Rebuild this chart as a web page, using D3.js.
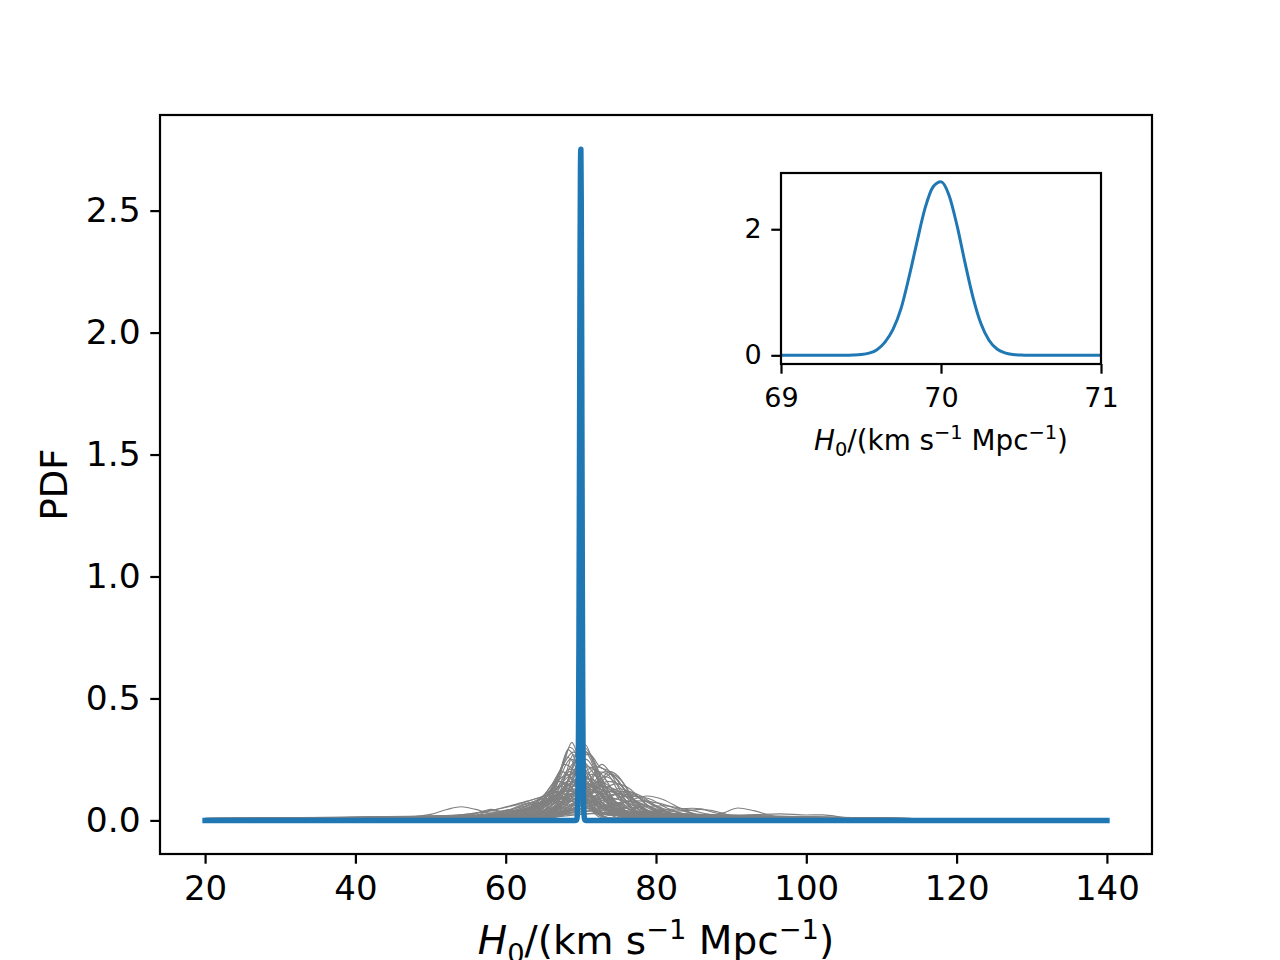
<!DOCTYPE html>
<html>
<head>
<meta charset="utf-8">
<script src="https://d3js.org/d3.v7.min.js"></script>
<style>
    body { margin: 0; background: white; }
    svg { display: block; font-family: "DejaVu Sans", sans-serif; }
</style>
</head>
<body>
<div id="chart"></div>
<script>
    // combined posterior (blue)
    let combinedH0 = [20, 69.0, 69.40, 69.45, 69.50, 69.55, 69.60, 69.65, 69.70, 69.75, 69.80, 69.85, 69.90, 69.95,
        70.00, 70.05, 70.10, 70.15, 70.20, 70.25, 70.30, 70.35, 70.40, 70.45, 70.50, 70.55, 71.0, 140];
    let combinedPdf = [0, 0, 0.001, 0.004, 0.012, 0.035, 0.09, 0.21, 0.41, 0.74, 1.24, 1.80, 2.33, 2.67,
        2.752, 2.54, 2.06, 1.47, 0.92, 0.50, 0.24, 0.10, 0.04, 0.014, 0.004, 0.001, 0, 0];

    let xTicks = [20, 40, 60, 80, 100, 120, 140];
    let yTicks = [0, 0.5, 1.0, 1.5, 2.0, 2.5];
    let insetXTicks = [69, 70, 71];
    let insetYTicks = [0, 2];

    // single event posteriors (grey), knots [H0, pdf]
    let eventCurves = [
        [[20, .006], [62, .012], [65, .05], [66.5, .12], [67.8, .24], [68.8, .32], [69.6, .26], [70.5, .12], [71.5, .04], [73, .01], [140, 0]],
        [[20, .006], [62, .015], [64.5, .06], [66.2, .13], [67.5, .22], [68.5, .30], [69.4, .27], [70.5, .13], [72, .04], [74, .01], [140, 0]],
        [[20, .005], [63, .02], [65.5, .08], [67.2, .2], [68.3, .29], [69.2, .25], [70.2, .14], [71.5, .05], [73.5, .01], [140, 0]],
        [[20, .007], [60, .02], [64, .07], [66, .14], [67.5, .22], [69, .28], [70, .27], [71, .2], [72.5, .09], [74.5, .03], [78, .006], [140, 0]],
        [[20, .004], [64, .01], [66.5, .05], [68.5, .18], [69.7, .3], [70.6, .31], [71.6, .24], [72.8, .14], [74.5, .06], [77, .015], [140, 0]],
        [[20, .005], [65, .02], [67.5, .1], [69, .22], [70.4, .3], [71.5, .26], [72.8, .17], [74, .1], [76, .04], [79, .01], [140, 0]],
        [[20, .005], [62, .015], [66, .06], [68, .15], [70, .27], [71.2, .27], [72.5, .22], [73.9, .2], [75.2, .15], [76.5, .1], [78, .05], [80, .02], [140, 0]],
        [[20, .004], [66, .03], [68.5, .12], [70.5, .2], [72.2, .22], [73.5, .2], [75, .16], [76.5, .1], [78, .06], [80, .025], [83, .008], [140, 0]],
        [[20, .006], [62, .02], [64.5, .06], [66, .13], [67.5, .2], [69, .16], [70.5, .08], [72, .03], [74, .008], [140, 0]],
        [[20, .007], [60, .02], [63, .05], [65, .1], [66.8, .16], [68.5, .14], [70.5, .07], [72.5, .025], [75, .005], [140, 0]],
        [[20, .005], [63, .015], [66, .06], [68, .15], [70.2, .24], [72, .18], [74, .08], [76, .03], [79, .008], [140, 0]],
        [[20, .006], [61, .015], [64, .05], [66.5, .11], [68, .17], [69.5, .2], [71, .17], [73, .09], [75, .035], [78, .01], [140, 0]],
        [[20, .004], [66, .02], [68.5, .08], [70.5, .17], [71.8, .21], [73, .18], [74.5, .11], [76.5, .045], [79, .012], [140, 0]],
        [[20, .004], [67, .02], [69.5, .08], [71.3, .17], [72.8, .23], [74.2, .18], [75.8, .09], [77.5, .03], [80, .008], [140, 0]],
        [[20, .004], [66, .015], [69, .05], [71.5, .12], [73, .18], [73.9, .2], [75, .18], [76.5, .11], [78, .05], [80, .015], [140, 0]],
        [[20, .006], [62, .015], [65, .06], [66.8, .16], [68.1, .26], [69.3, .22], [70.5, .11], [72, .035], [74, .008], [140, 0]],
        [[20, .005], [63, .015], [66, .07], [67.8, .17], [69.2, .24], [70.6, .2], [72, .11], [73.8, .04], [76, .01], [140, 0]],
        [[20, .004], [65, .015], [67.5, .07], [69.3, .19], [70.8, .28], [72, .22], [73.2, .12], [74.8, .045], [77, .01], [140, 0]],
        [[20, .008], [55, .02], [60, .04], [64, .07], [67, .095], [70, .1], [73, .09], [76, .06], [80, .03], [85, .012], [92, .004], [140, 0]],
        [[20, .009], [52, .02], [58, .04], [63, .08], [68, .12], [72, .09], [76, .05], [81, .02], [88, .006], [140, 0]],
        [[20, .006], [58, .02], [63, .045], [67, .09], [72, .13], [75, .11], [78, .07], [82, .03], [88, .01], [140, 0]],
        [[20, .005], [60, .015], [66, .04], [70, .08], [74.5, .12], [77.5, .1], [80, .06], [84, .025], [90, .008], [140, 0]],
        [[20, .009], [50, .015], [56, .03], [61, .06], [66, .1], [70, .08], [74, .04], [79, .015], [140, 0]],
        [[20, .005], [62, .012], [68, .035], [72.5, .07], [76.5, .1], [79, .09], [81.5, .05], [85, .018], [90, .005], [140, 0]],
        [[20, .004], [62, .01], [68, .03], [73, .05], [76, .075], [78.8, .1], [81, .085], [83.5, .045], [87, .015], [92, .004], [140, 0]],
        [[20, .004], [60, .01], [68, .025], [74, .03], [78, .035], [82, .045], [84.9, .05], [87.5, .04], [90, .02], [94, .006], [140, 0]],
        [[20, .004], [65, .012], [72, .03], [78, .035], [84, .04], [86, .045], [88.5, .028], [90.9, .051], [93, .04], [95.5, .018], [99, .005], [140, 0]],
        [[20, .003], [60, .01], [68, .04], [72, .05], [78, .035], [85, .025], [90, .02], [96.5, .027], [100, .022], [102.2, .023], [105, .012], [108, .003], [140, 0]],
        [[20, .008], [45, .01], [50, .025], [52.2, .045], [54.1, .056], [56, .045], [58, .03], [60, .03], [63, .05], [66, .08], [69, .1], [72, .07], [76, .03], [82, .008], [140, 0]],
        [[20, .007], [50, .01], [55, .02], [57, .038], [58.1, .045], [59.2, .038], [60.3, .043], [61.5, .035], [64, .05], [68, .12], [71, .1], [74, .04], [78, .01], [140, 0]],
        [[20, .007], [52, .012], [58, .025], [61, .05], [62.5, .068], [63.6, .074], [65, .07], [67, .1], [69, .14], [71, .1], [73.5, .04], [77, .01], [140, 0]],
        [[20, .006], [52, .01], [56, .02], [58, .04], [59.5, .035], [61, .04], [63, .06], [65.5, .1], [68, .15], [70.5, .12], [73, .05], [77, .012], [140, 0]],
        [[20, .006], [62, .02], [65.5, .06], [67.8, .13], [69.8, .17], [71.8, .13], [73.8, .06], [76, .02], [140, 0]],
        [[20, .007], [60, .02], [63, .05], [65, .1], [67, .14], [69, .12], [71, .07], [73.5, .025], [140, 0]],
        [[20, .005], [63, .015], [66.5, .05], [69, .11], [71, .15], [73, .12], [75, .06], [77.5, .02], [140, 0]],
        [[20, .005], [64, .015], [67.5, .05], [70.3, .12], [72.5, .16], [74.2, .13], [76, .07], [78.5, .02], [140, 0]],
        [[20, .006], [62, .015], [65.5, .07], [67.2, .15], [68.5, .2], [70, .17], [71.5, .09], [73.5, .03], [76, .006], [140, 0]],
        [[20, .008], [56, .015], [60, .035], [63, .07], [65.5, .09], [68, .085], [71, .05], [74, .02], [140, 0]],
        [[20, .005], [64, .012], [68, .035], [71.5, .08], [75, .13], [77, .11], [79, .06], [82, .02], [140, 0]],
        [[20, .005], [64, .01], [66.5, .06], [68, .19], [69, .27], [70, .22], [71.2, .1], [72.8, .025], [140, 0]],
        [[20, .005], [65, .01], [67.5, .06], [69.2, .2], [70.3, .29], [71.3, .25], [72.5, .14], [74, .05], [76, .012], [140, 0]],
        [[20, .008], [58, .02], [62, .05], [64.5, .09], [66.2, .12], [68, .11], [70, .07], [72.5, .025], [140, 0]],
        [[20, .004], [65, .012], [68.5, .05], [71.2, .13], [73.2, .18], [74.8, .15], [76.5, .08], [79, .025], [140, 0]],
        [[20, .005], [64, .012], [67.5, .05], [70, .14], [71.5, .19], [73, .15], [74.8, .07], [77, .02], [140, 0]],
        [[20, .006], [61, .015], [64.5, .06], [66.5, .15], [67.8, .23], [69.2, .2], [70.8, .1], [72.5, .03], [140, 0]],
        [[20, .007], [58, .02], [63, .05], [66.5, .1], [69.6, .13], [72.5, .11], [75.5, .06], [79, .02], [84, .005], [140, 0]],
        [[20, .005], [60, .01], [67, .03], [72, .055], [77.5, .08], [80.5, .07], [84, .035], [88, .01], [140, 0]],
        [[20, .005], [60, .01], [68, .03], [74, .045], [78, .055], [81, .06], [84, .045], [88, .02], [93, .005], [140, 0]],
        [[20, .006], [61, .02], [64, .06], [66, .12], [67.6, .18], [69, .19], [70.4, .15], [72, .08], [74, .03], [140, 0]],
        [[20, .005], [62, .015], [65, .05], [67.5, .12], [69.5, .16], [71.5, .14], [73.5, .08], [75.5, .03], [140, 0]],
        [[20, .006], [60, .02], [63.5, .05], [66, .09], [68.3, .13], [70.5, .12], [73, .07], [76, .025], [140, 0]],
        [[20, .005], [64, .015], [67, .06], [69.2, .15], [70.9, .22], [72.4, .19], [74, .1], [76, .035], [140, 0]],
        [[20, .005], [63, .015], [66.5, .07], [68.6, .17], [70.1, .21], [71.6, .17], [73.3, .08], [75.5, .02], [140, 0]],
        [[20, .004], [65, .012], [68.5, .06], [71, .14], [72.3, .2], [73.5, .19], [75, .12], [77, .05], [80, .012], [140, 0]],
        [[20, .004], [66, .015], [69.5, .06], [72, .13], [74, .19], [75.5, .16], [77, .09], [79, .035], [82, .008], [140, 0]],
        [[20, .004], [65, .012], [69, .05], [72, .1], [74.6, .15], [76.5, .13], [78.5, .07], [81, .025], [140, 0]],
        [[20, .005], [62, .012], [66, .04], [69.5, .09], [73, .12], [76, .1], [79, .05], [82.5, .015], [140, 0]],
        [[20, .006], [58, .02], [62, .04], [65, .07], [67.5, .09], [70, .085], [73, .06], [77, .025], [82, .006], [140, 0]],
        [[20, .006], [60, .015], [63.5, .04], [66.5, .08], [69, .11], [71, .1], [73.5, .06], [77, .02], [140, 0]],
        [[20, .005], [62, .012], [66, .035], [70, .07], [73.5, .09], [77, .075], [80.5, .04], [85, .012], [140, 0]],
        [[20, .007], [57, .015], [61.5, .04], [64.5, .07], [67, .1], [69, .11], [71.5, .08], [74.5, .035], [78, .008], [140, 0]],
        [[20, .005], [64, .012], [67, .045], [69.5, .13], [71, .17], [72.5, .15], [74.5, .07], [77, .02], [140, 0]],
        [[20, .006], [61, .015], [64.5, .05], [67, .14], [68.4, .21], [69.8, .19], [71.5, .09], [73.5, .025], [140, 0]],
        [[20, .005], [63, .015], [66.5, .06], [68.8, .16], [70.6, .18], [72.5, .12], [74.5, .05], [77, .012], [140, 0]],
        [[20, .004], [64, .01], [67.5, .04], [70.5, .1], [73, .14], [75, .12], [77, .07], [80, .02], [140, 0]],
        [[20, .005], [60, .012], [65, .04], [68.5, .08], [71.5, .1], [74.5, .09], [78, .05], [82, .018], [87, .004], [140, 0]],
        [[20, .006], [59, .02], [63, .045], [66, .085], [68.2, .12], [70.3, .11], [72.8, .06], [76, .02], [140, 0]],
        [[20, .005], [63, .012], [67, .05], [69.8, .12], [71.8, .15], [73.8, .13], [76, .07], [78.5, .025], [140, 0]],
        [[20, .005], [65, .012], [68.5, .05], [71.5, .11], [73.5, .16], [75, .15], [76.5, .1], [78.5, .045], [81, .012], [140, 0]],
        [[20, .004], [66, .012], [70, .045], [73.5, .09], [76, .12], [78, .1], [80, .06], [83, .02], [140, 0]],
        [[20, .006], [60, .015], [64, .05], [66.8, .11], [68.6, .15], [70.2, .14], [72.2, .08], [74.5, .03], [140, 0]],
        [[20, .005], [62, .015], [65.5, .05], [68, .1], [70.6, .13], [73, .11], [75.5, .06], [78.5, .02], [140, 0]],
        [[20, .005], [63, .015], [66, .045], [68.5, .1], [72, .14], [74, .125], [76.5, .07], [79.5, .02], [140, 0]],
        [[20, .006], [56, .015], [61, .035], [65, .06], [68, .08], [71, .075], [74, .05], [78, .02], [140, 0]],
        [[20, .004], [64, .01], [68, .035], [71.8, .08], [75, .11], [77.5, .095], [80, .055], [83.5, .018], [140, 0]],
        [[20, .006], [61, .02], [64, .06], [66, .11], [68.4, .16], [70.8, .15], [73, .09], [75.5, .03], [140, 0]],
        [[20, .005], [64, .015], [67.5, .08], [69.5, .2], [70.7, .25], [71.9, .2], [73.4, .1], [75.5, .03], [140, 0]],
        [[20, .006], [62, .015], [65, .06], [67, .16], [68.6, .25], [69.9, .23], [71.3, .12], [73, .03], [140, 0]],
        [[20, .005], [66, .02], [69, .07], [71.5, .15], [73.2, .2], [74.8, .17], [76.5, .09], [78.5, .03], [140, 0]]
    ];

    const width = 1280, height = 960;
    const blue = "#1f77b4";

    let svg = d3.select("#chart").append("svg")
        .attr("width", width)
        .attr("height", height);

    svg.append("rect").attr("width", width).attr("height", height).attr("fill", "white");

    // main axes
    let x = d3.scaleLinear().domain([14, 146]).range([160, 1152]);
    let y = d3.scaleLinear().domain([-0.1377, 2.892]).range([854, 115]);

    let line = d3.line()
        .x(d => x(d[0]))
        .y(d => y(d[1]))
        .curve(d3.curveMonotoneX);

    svg.append("g")
        .selectAll("path")
        .data(eventCurves)
        .join("path")
        .attr("d", line)
        .attr("fill", "none")
        .attr("stroke", "#808080")
        .attr("stroke-width", 1.15);

    let combined = combinedH0.map((h, i) => [h, combinedPdf[i]]);

    svg.append("path")
        .datum(combined)
        .attr("d", line)
        .attr("fill", "none")
        .attr("stroke", blue)
        .attr("stroke-width", 5.5)
        .attr("stroke-linejoin", "round")
        .attr("stroke-linecap", "square");

    function styleAxis(g, fontSize) {
        g.select(".domain").remove();
        g.selectAll(".tick line").attr("stroke", "black").attr("stroke-width", 2.2);
        g.selectAll(".tick text")
            .attr("fill", "black")
            .style("font-size", fontSize + "px")
            .style("font-family", "DejaVu Sans");
    }

    svg.append("g")
        .attr("transform", "translate(0,854)")
        .call(d3.axisBottom(x).tickValues(xTicks).tickSize(9.7).tickPadding(12).tickFormat(d3.format("d")))
        .call(g => styleAxis(g, 34));

    svg.append("g")
        .attr("transform", "translate(160,0)")
        .call(d3.axisLeft(y).tickValues(yTicks).tickSize(9.7).tickPadding(9.7).tickFormat(d3.format(".1f")))
        .call(g => styleAxis(g, 34.5));

    svg.append("rect")
        .attr("x", 160).attr("y", 115)
        .attr("width", 992).attr("height", 739)
        .attr("fill", "none")
        .attr("stroke", "black")
        .attr("stroke-width", 2.2);

    function h0Label(parent, cx, baseline, size) {
        let t = parent.append("text")
            .attr("x", cx)
            .attr("y", baseline)
            .attr("text-anchor", "middle")
            .style("font-size", size + "px")
            .attr("fill", "black");
        let s = size * 0.7;
        t.append("tspan").style("font-style", "italic").text("H");
        t.append("tspan").style("font-size", s + "px").attr("dy", size * 0.22).text("0");
        t.append("tspan").attr("dy", -size * 0.22).text("/(km s");
        t.append("tspan").style("font-size", s + "px").attr("dy", -size * 0.38).text("\u22121");
        t.append("tspan").attr("dy", size * 0.38).text(" Mpc");
        t.append("tspan").style("font-size", s + "px").attr("dy", -size * 0.38).text("\u22121");
        t.append("tspan").attr("dy", size * 0.38).text(")");
    }

    h0Label(svg, 656, 954, 39);

    svg.append("text")
        .attr("transform", "translate(67,484.5) rotate(-90)")
        .attr("text-anchor", "middle")
        .style("font-size", "37px")
        .attr("fill", "black")
        .text("PDF");

    // inset axes
    let ix = d3.scaleLinear().domain([69, 71]).range([781, 1101]);
    let iy = d3.scaleLinear().domain([-0.1377, 2.892]).range([364, 173]);

    svg.append("rect")
        .attr("x", 781).attr("y", 173)
        .attr("width", 320).attr("height", 191)
        .attr("fill", "white");

    svg.append("clipPath").attr("id", "insetClip")
        .append("rect")
        .attr("x", 781).attr("y", 173)
        .attr("width", 320).attr("height", 191);

    let insetLine = d3.line()
        .x(d => ix(d[0]))
        .y(d => iy(d[1]))
        .curve(d3.curveMonotoneX);

    svg.append("path")
        .datum(combined)
        .attr("clip-path", "url(#insetClip)")
        .attr("d", insetLine)
        .attr("fill", "none")
        .attr("stroke", blue)
        .attr("stroke-width", 3)
        .attr("stroke-linejoin", "round");

    svg.append("g")
        .attr("transform", "translate(0,364)")
        .call(d3.axisBottom(ix).tickValues(insetXTicks).tickSize(9.7).tickPadding(14).tickFormat(d3.format("d")))
        .call(g => styleAxis(g, 27));

    svg.append("g")
        .attr("transform", "translate(781,0)")
        .call(d3.axisLeft(iy).tickValues(insetYTicks).tickSize(9.7).tickPadding(9.7).tickFormat(d3.format("d")))
        .call(g => styleAxis(g, 27));

    svg.append("rect")
        .attr("x", 781).attr("y", 173)
        .attr("width", 320).attr("height", 191)
        .attr("fill", "none")
        .attr("stroke", "black")
        .attr("stroke-width", 2.2);

    h0Label(svg, 941, 450, 27.8);
</script>
</body>
</html>
